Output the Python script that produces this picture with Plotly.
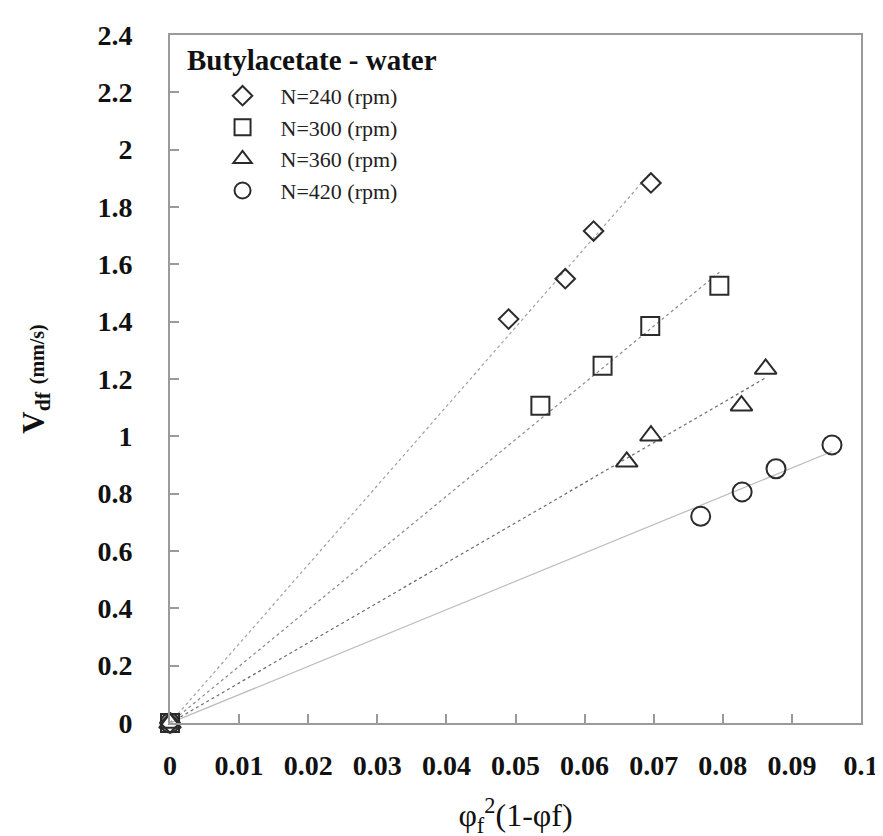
import numpy as np
import plotly.graph_objects as go

# ---- data ----
series_names = ["N=240 (rpm)", "N=300 (rpm)", "N=360 (rpm)", "N=420 (rpm)"]
x_240 = [0.0, 0.0490, 0.0572, 0.0613, 0.0696]
y_240 = [0.0, 1.409, 1.550, 1.716, 1.884]
x_300 = [0.0, 0.0536, 0.0626, 0.0695, 0.0795]
y_300 = [0.0, 1.107, 1.246, 1.385, 1.525]
x_360 = [0.0, 0.0661, 0.0696, 0.0827, 0.0862]
y_360 = [0.0, 0.911, 1.002, 1.107, 1.235]
x_420 = [0.0, 0.0768, 0.0828, 0.0877, 0.0958]
y_420 = [0.0, 0.721, 0.806, 0.887, 0.970]

x_ticks = [0, 0.01, 0.02, 0.03, 0.04, 0.05, 0.06, 0.07, 0.08, 0.09, 0.1]
x_tick_text = ["0", "0.01", "0.02", "0.03", "0.04", "0.05", "0.06", "0.07", "0.08", "0.09", "0.1"]
y_ticks = [0, 0.2, 0.4, 0.6, 0.8, 1, 1.2, 1.4, 1.6, 1.8, 2, 2.2, 2.4]
y_tick_text = ["0", "0.2", "0.4", "0.6", "0.8", "1", "1.2", "1.4", "1.6", "1.8", "2", "2.2", "2.4"]

xs = [x_240, x_300, x_360, x_420]
ys = [y_240, y_300, y_360, y_420]
symbols = ["diamond-open", "square-open", "triangle-up-open", "circle-open"]
sizes = [15, 18, 19, 19]
line_styles = [("#a0a0a0", "dot"), ("#8a8a8a", "dot"), ("#6a6a6a", "dot"), ("#bcbcbc", "solid")]

FONT = "Liberation Serif, Times New Roman, serif"

fig = go.Figure()

# trendlines through the origin (linear fit, intercept 0)
for x, y, (lc, ld) in zip(xs, ys, line_styles):
    xa = np.array(x)
    ya = np.array(y)
    slope = float((xa * ya).sum() / (xa * xa).sum())
    xl = [0.0, float(xa.max())]
    fig.add_trace(go.Scatter(
        x=xl, y=[slope * v for v in xl], mode="lines",
        line=dict(color=lc, width=1.2, dash=ld),
        showlegend=False, hoverinfo="skip"))

for x, y, name, sym, sz in zip(xs, ys, series_names, symbols, sizes):
    fig.add_trace(go.Scatter(
        x=x, y=y, mode="markers", name=name, cliponaxis=False,
        marker=dict(symbol=sym, size=sz, color="#2b2b2b",
                    line=dict(color="#2b2b2b", width=2))))

fig.update_layout(
    width=883, height=836,
    margin=dict(l=162, r=22, t=25, b=121),
    paper_bgcolor="white", plot_bgcolor="white",
    font=dict(family=FONT, color="#111111"),
    showlegend=True,
    legend=dict(
        x=0.05, y=0.942, xanchor="left", yanchor="top",
        bgcolor="rgba(0,0,0,0)",
        font=dict(family=FONT, size=22, color="#222222"),
        itemwidth=66,
        tracegroupgap=0,
    ),
    annotations=[dict(
        text="<b>Butylacetate - water</b>", xref="paper", yref="paper",
        x=0.022, y=0.99, xanchor="left", yanchor="top", showarrow=False,
        font=dict(family=FONT, size=29, color="#111111"))],
)

fig.update_xaxes(
    range=[0, 0.1], tickvals=x_ticks, ticktext=x_tick_text,
    showgrid=False, zeroline=False,
    showline=True, mirror=True, linecolor="#9a9a9a", linewidth=2,
    ticks="inside", ticklen=9, tickcolor="#9a9a9a", tickwidth=1.5,
    tickfont=dict(family=FONT, size=28, color="#111111", weight="bold"),
    ticklabelstandoff=16,
    title=dict(text="φ<sub>f</sub><sup>2</sup>(1-φf)", standoff=24,
               font=dict(family=FONT, size=32, color="#111111")),
)
fig.update_yaxes(
    range=[0, 2.4], tickvals=y_ticks, ticktext=y_tick_text,
    showgrid=False, zeroline=False,
    showline=True, mirror=True, linecolor="#9a9a9a", linewidth=2,
    ticks="inside", ticklen=9, tickcolor="#9a9a9a", tickwidth=1.5,
    tickfont=dict(family=FONT, size=28, color="#111111", weight="bold"),
    ticklabelstandoff=30,
    title=dict(text="<b>V<sub>df</sub> <span style='font-size:20px'>(mm/s)</span></b>", standoff=44,
               font=dict(family=FONT, size=31, color="#111111")),
)

fig.write_html("out.html")
